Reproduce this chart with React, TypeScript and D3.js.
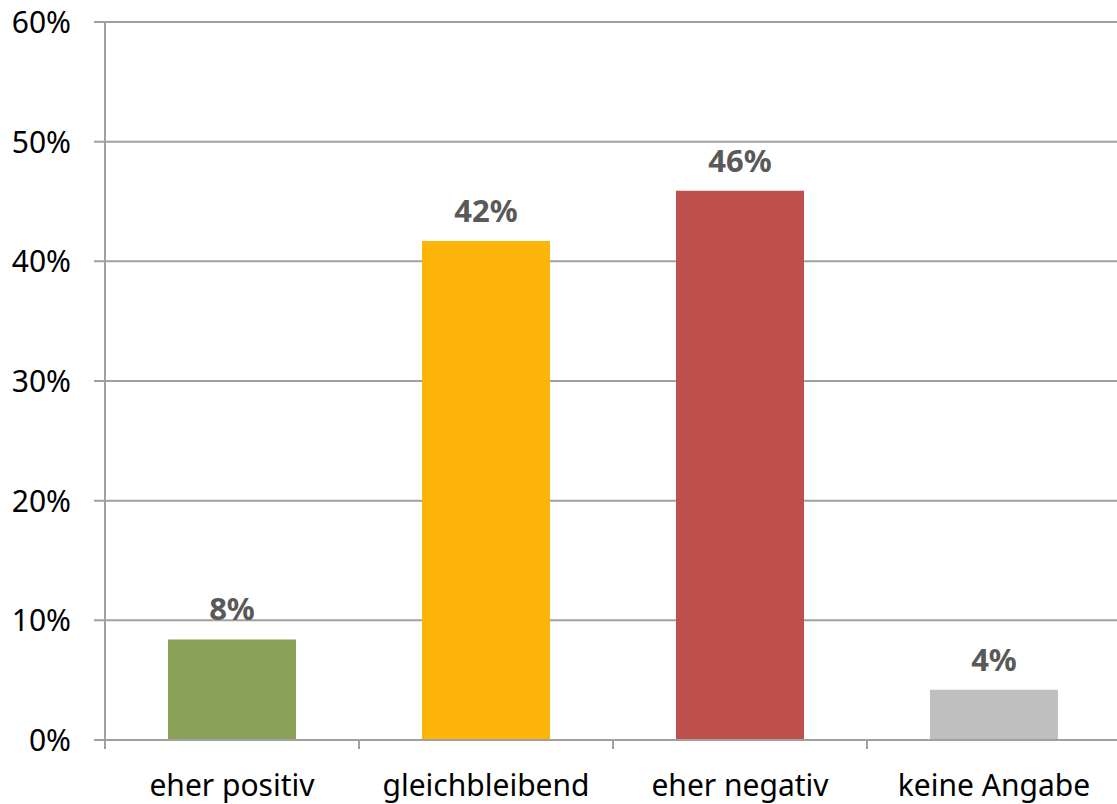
import React from "react";
import * as d3 from "d3";

const categories = ["eher positiv", "gleichbleibend", "eher negativ", "keine Angabe"];
const values = [8.4, 41.7, 45.9, 4.2];
const valueLabels = ["8%", "42%", "46%", "4%"];
const colors = ["#8aa15a", "#feb50a", "#c0504d", "#bfbfbf"];
const yTicks = [0, 10, 20, 30, 40, 50, 60];

export default function App() {
  const W = 1117, H = 804;
  const left = 105, top = 22, bottom = 740, right = 1121;
  const font = "'Noto Sans', 'Open Sans', sans-serif";
  const x = d3.scaleBand<string>().domain(categories).range([left, right]).paddingInner(0).paddingOuter(0);
  const y = d3.scaleLinear().domain([0, 60]).range([bottom, top]);
  const bw = x.bandwidth();
  const barW = bw * 0.504;
  const grid = "#a0a0a0";
  return (
    <svg width={W} height={H} style={{ position: "absolute", left: 0, top: 0, background: "#fff" }}>
      {yTicks.map((t) => (
        <g key={t}>
          <line x1={left - 11} x2={W} y1={y(t)} y2={y(t)} stroke={grid} strokeWidth={2} />
          <text x={71} y={y(t) + 11} textAnchor="end" fontFamily={font} fontSize={30} fill="#000">
            {t}%
          </text>
        </g>
      ))}
      <line x1={left} x2={left} y1={top} y2={bottom + 9} stroke={grid} strokeWidth={2} />
      {categories.map((c, i) => (
        <line key={"t" + i} x1={x(c)!} x2={x(c)!} y1={bottom} y2={bottom + 9} stroke={grid} strokeWidth={2} />
      ))}
      {categories.map((c, i) => {
        const cx = x(c)! + bw / 2;
        return (
          <g key={c}>
            <rect x={cx - barW / 2} y={y(values[i])} width={barW} height={bottom - 1 - y(values[i])} fill={colors[i]} />
            <text x={cx} y={y(values[i]) - 19} textAnchor="middle" fontFamily={font} fontSize={31} fontWeight="bold" fill="#595959">
              {valueLabels[i]}
            </text>
            <text x={cx} y={796} textAnchor="middle" fontFamily={font} fontSize={30} fill="#000">
              {c}
            </text>
          </g>
        );
      })}
    </svg>
  );
}
